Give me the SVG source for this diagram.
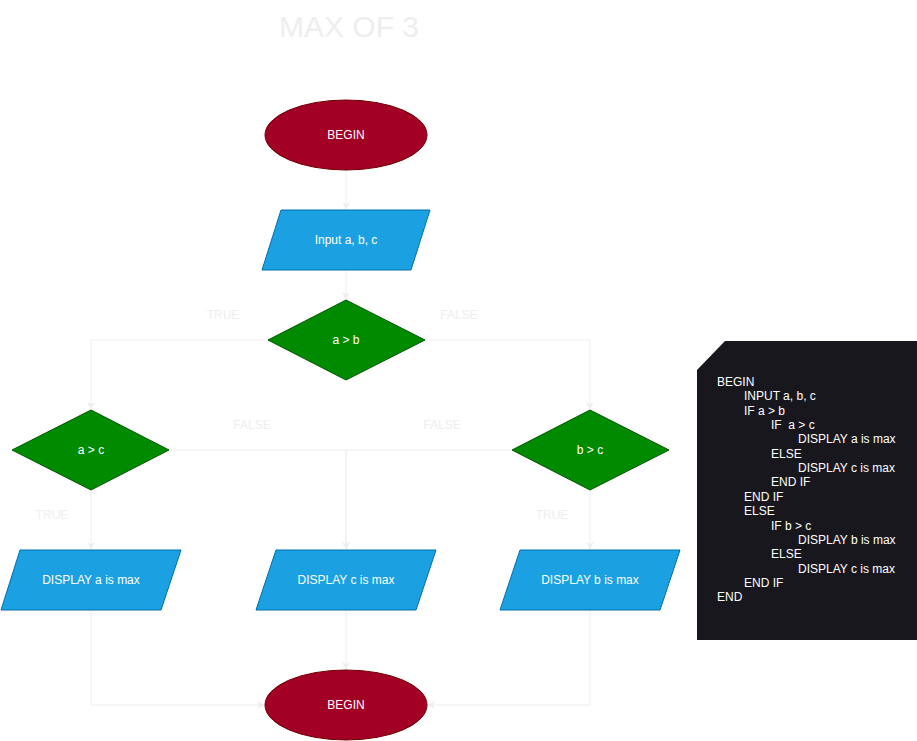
<svg xmlns="http://www.w3.org/2000/svg" width="917" height="741" viewBox="0 0 917 741">
<defs>
<marker id="arr" viewBox="0 0 10 10" refX="9" refY="5" markerWidth="8" markerHeight="8" orient="auto" markerUnits="userSpaceOnUse">
<path d="M0,0 L10,5 L0,10 L3,5 Z" fill="#eeeeee"/>
</marker>
<style>
.term{fill:#a20025;stroke:#6f0000;stroke-width:1}
.io{fill:#1ba1e2;stroke:#006eaf;stroke-width:1}
.dec{fill:#008a00;stroke:#005700;stroke-width:1}
.lbl{font-family:"Liberation Sans",Arial,sans-serif;font-size:12px;fill:#ffffff;text-anchor:middle;dominant-baseline:central}
.edge{fill:none;stroke:#eeeeee;stroke-width:1}
.elbl{font-family:"Liberation Sans",Arial,sans-serif;font-size:12px;fill:#eeeeee;text-anchor:middle;dominant-baseline:central}
.code{font-family:"Liberation Sans",Arial,sans-serif;font-size:12px;fill:#ffffff}
</style>
</defs>
<rect width="917" height="741" fill="#ffffff"/>
<text x="349" y="26" font-family="'Liberation Sans',Arial,sans-serif" font-size="30" fill="#eeeeee" text-anchor="middle" dominant-baseline="central">MAX OF 3</text>

<g id="connectors">
<path class="edge" d="M346,170 L346,209" marker-end="url(#arr)"/>
<path class="edge" d="M346,270 L346,299" marker-end="url(#arr)"/>
<path class="edge" d="M268,340 L91,340 L91,409" marker-end="url(#arr)"/>
<path class="edge" d="M425,340 L590,340 L590,409" marker-end="url(#arr)"/>
<path class="edge" d="M91,490 L91,549" marker-end="url(#arr)"/>
<path class="edge" d="M169,450 L346,450 L346,549" marker-end="url(#arr)"/>
<path class="edge" d="M512,450 L346,450 L346,549" marker-end="url(#arr)"/>
<path class="edge" d="M590,490 L590,549" marker-end="url(#arr)"/>
<path class="edge" d="M91,610 L91,705 L264,705" marker-end="url(#arr)"/>
<path class="edge" d="M346,610 L346,669" marker-end="url(#arr)"/>
<path class="edge" d="M590,610 L590,705 L428,705" marker-end="url(#arr)"/>
<text class="elbl" x="223" y="315">TRUE</text>
<text class="elbl" x="459" y="315">FALSE</text>
<text class="elbl" x="252" y="425">FALSE</text>
<text class="elbl" x="442" y="425">FALSE</text>
<text class="elbl" x="52" y="515">TRUE</text>
<text class="elbl" x="552" y="515">TRUE</text>
</g>

<g id="begin">
<ellipse class="term" cx="346" cy="135" rx="81" ry="35"/>
<text class="lbl" x="346" y="135">BEGIN</text>
</g>
<g id="input">
<polygon class="io" points="281,210 430,210 411,270 262,270"/>
<text class="lbl" x="346" y="240">Input a, b, c</text>
</g>
<g id="dec-ab">
<polygon class="dec" points="346,300 425,340 346,380 268,340"/>
<text class="lbl" x="346" y="340">a &gt; b</text>
</g>
<g id="dec-ac">
<polygon class="dec" points="91,410 169,450 91,490 12,450"/>
<text class="lbl" x="91" y="450">a &gt; c</text>
</g>
<g id="dec-bc">
<polygon class="dec" points="590,410 669,450 590,490 512,450"/>
<text class="lbl" x="590" y="450">b &gt; c</text>
</g>
<g id="disp-a">
<polygon class="io" points="20,550 181,550 161,610 1,610"/>
<text class="lbl" x="91" y="580">DISPLAY a is max</text>
</g>
<g id="disp-c">
<polygon class="io" points="276,550 436,550 416,610 256,610"/>
<text class="lbl" x="346" y="580">DISPLAY c is max</text>
</g>
<g id="disp-b">
<polygon class="io" points="520,550 680,550 660,610 500,610"/>
<text class="lbl" x="590" y="580">DISPLAY b is max</text>
</g>
<g id="end">
<ellipse class="term" cx="346" cy="705" rx="81" ry="35"/>
<text class="lbl" x="346" y="705">BEGIN</text>
</g>

<g id="code">
<polygon points="725,341 917,341 917,640 697,640 697,370" fill="#18171e"/>
<text class="code" x="717" y="386">BEGIN</text>
<text class="code" x="744" y="400">INPUT a, b, c</text>
<text class="code" x="744" y="415">IF a &gt; b</text>
<text class="code" x="771" y="429" xml:space="preserve">IF  a &gt; c</text>
<text class="code" x="798" y="443">DISPLAY a is max</text>
<text class="code" x="771" y="458">ELSE</text>
<text class="code" x="798" y="472">DISPLAY c is max</text>
<text class="code" x="771" y="486">END IF</text>
<text class="code" x="744" y="501">END IF</text>
<text class="code" x="744" y="515">ELSE</text>
<text class="code" x="771" y="530">IF b &gt; c</text>
<text class="code" x="798" y="544">DISPLAY b is max</text>
<text class="code" x="771" y="558">ELSE</text>
<text class="code" x="798" y="573">DISPLAY c is max</text>
<text class="code" x="744" y="587">END IF</text>
<text class="code" x="717" y="601">END</text>
</g>
</svg>
